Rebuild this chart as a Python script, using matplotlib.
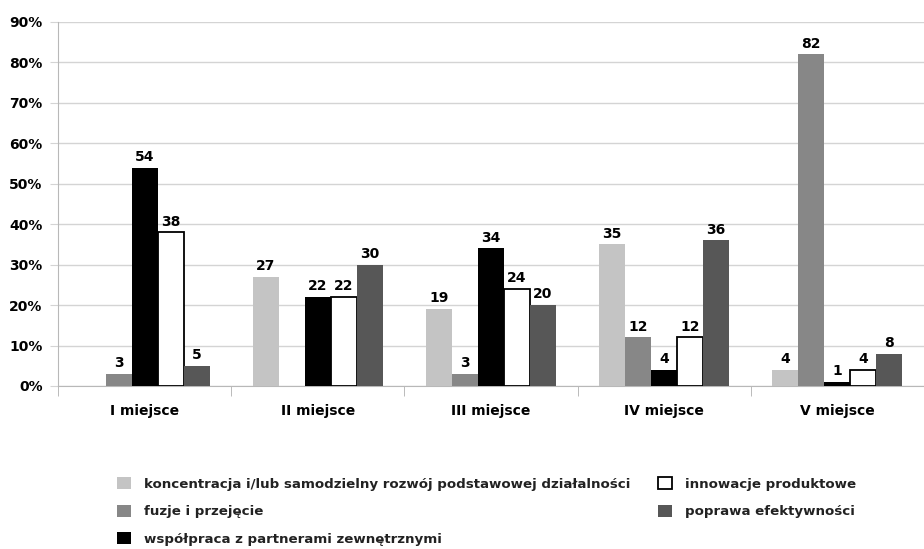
import numpy as np
import matplotlib
matplotlib.use("Agg")
import matplotlib.pyplot as plt

plt.rcParams["font.family"] = ["DejaVu Sans"]

groups = ["I miejsce", "II miejsce", "III miejsce", "IV miejsce", "V miejsce"]
series = [
    "koncentracja i/lub samodzielny rozwój podstawowej działalności",
    "fuzje i przejęcie",
    "współpraca z partnerami zewnętrznymi",
    "innowacje produktowe",
    "poprawa efektywności",
]
koncentracja = [0, 27, 19, 35, 4]
fuzje = [3, 0, 3, 12, 82]
wspolpraca = [54, 22, 34, 4, 1]
innowacje = [38, 22, 24, 12, 4]
efektywnosc = [5, 30, 20, 36, 8]
values = [koncentracja, fuzje, wspolpraca, innowacje, efektywnosc]

colors = ["#c4c4c4", "#878787", "#000000", "#ffffff", "#575757"]
edges = ["#c4c4c4", "#878787", "#000000", "#000000", "#575757"]

fig = plt.figure(figsize=(9.24, 5.49), dpi=100)
ax = fig.add_axes([0.0628, 0.297, 0.937, 0.663])

x = np.arange(len(groups))
w = 0.15
for i, (vals, c, ec) in enumerate(zip(values, colors, edges)):
    pos = x + (i - 2) * w
    lw = 1.3 if c == "#ffffff" else 0
    ax.bar(pos, vals, width=w, color=c, edgecolor=ec, linewidth=lw,
           label=series[i], zorder=3)
    for p, v in zip(pos, vals):
        if v > 0:
            ax.text(p, v + 0.9, str(v), ha="center", va="bottom",
                    fontsize=10, fontweight="bold", zorder=4)

ax.set_xlim(-0.5, len(groups) - 0.5)
ax.set_ylim(0, 90)
ax.set_yticks(np.arange(0, 91, 10))
ax.set_yticklabels([f"{t}%" for t in range(0, 91, 10)])
ax.yaxis.grid(True, color="#d4d4d4", lw=1, zorder=0)
ax.set_xticks(x)
ax.set_xticklabels(groups)
ax.set_xticks(np.arange(-0.5, len(groups)), minor=True)
ax.tick_params(axis="x", which="major", length=0, pad=13)
ax.tick_params(axis="x", which="minor", length=7, color="#b0b0b0")
ax.tick_params(axis="y", length=6, color="#d4d4d4", pad=5)
for lab in ax.get_xticklabels() + ax.get_yticklabels():
    lab.set_fontweight("bold")
    lab.set_fontsize(10)
for s in ["top", "right"]:
    ax.spines[s].set_visible(False)
ax.spines["left"].set_color("#b8b8b8")
ax.spines["bottom"].set_color("#b8b8b8")

handles, labels = ax.get_legend_handles_labels()
leg = fig.legend(handles, labels,
                 loc="upper left", bbox_to_anchor=(0.127, 0.131), ncol=2,
                 frameon=False, fontsize=9.6, handlelength=1.0, handleheight=1.0,
                 handletextpad=1.0, columnspacing=2.1, labelspacing=1.05,
                 borderaxespad=0, borderpad=0)
for t in leg.get_texts():
    t.set_fontweight("bold")
    t.set_color("#222222")

fig.savefig("out.png", dpi=100)
